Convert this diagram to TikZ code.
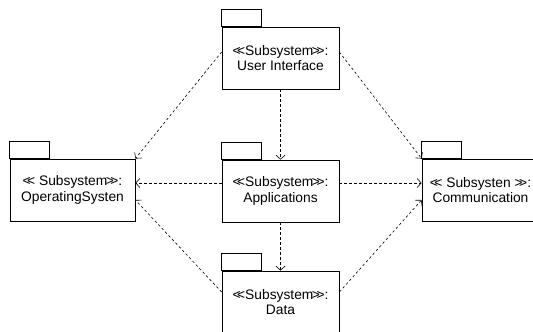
\documentclass[tikz,border=0pt]{standalone}
\usepackage{fontspec}
\setmainfont{Liberation Sans}
\usetikzlibrary{arrows.meta}
\newcommand{\llq}{<\kern-3.5pt<}
\newcommand{\rrq}{>\kern-3.5pt>}
\begin{document}
\begin{tikzpicture}[x=1pt,y=-1pt,
  pkg/.style={draw, line width=0.8pt, minimum width=117pt, minimum height=62pt, inner sep=0pt,
    align=center, font=\fontsize{13.8}{15.5}\selectfont},
  dep/.style={draw, line width=0.6pt, dash pattern=on 2.5pt off 2.5pt,
    -{Straight Barb[length=4pt,width=9pt]}}]
\useasboundingbox (0,0) rectangle (533,332);
\node[pkg] (ui) at (280.5,58) {\llq Subsystem\kern-1.5pt\rrq:\\User Interface};
\node[pkg, minimum width=125pt] (os) at (72.5,190) {\llq{} Subsystem\kern-1.5pt\rrq:\\OperatingSysten};
\node[pkg] (app) at (280.5,191) {\llq Subsystem\kern-1.5pt\rrq:\\Applications};
\node[pkg] (comm) at (480.5,190) {\llq{} Subsysten \rrq:\\Communication};
\node[pkg] (data) at (280.5,302) {\llq Subsystem\kern-1.5pt\rrq:\\Data};
\foreach \n in {ui,os,app,comm,data}
  \draw[line width=0.8pt] (\n.north west) rectangle ++(40,-17);
\draw[dep] (ui.west |- 0,52) -- (os.north east);
\draw[dep] (ui.east |- 0,52) -- (comm.north west);
\draw[dep] (ui.south) -- (app.north);
\draw[dep] (app.west |- 0,183) -- (os.east |- 0,183);
\draw[dep] (app.east |- 0,183) -- (comm.west |- 0,183);
\draw[dep] (app.south) -- (data.north);
\draw[dep] (data.west |- 0,292) -- (os.east |- 0,200);
\draw[dep] (data.east |- 0,292) -- (comm.west |- 0,200);
\end{tikzpicture}
\end{document}
